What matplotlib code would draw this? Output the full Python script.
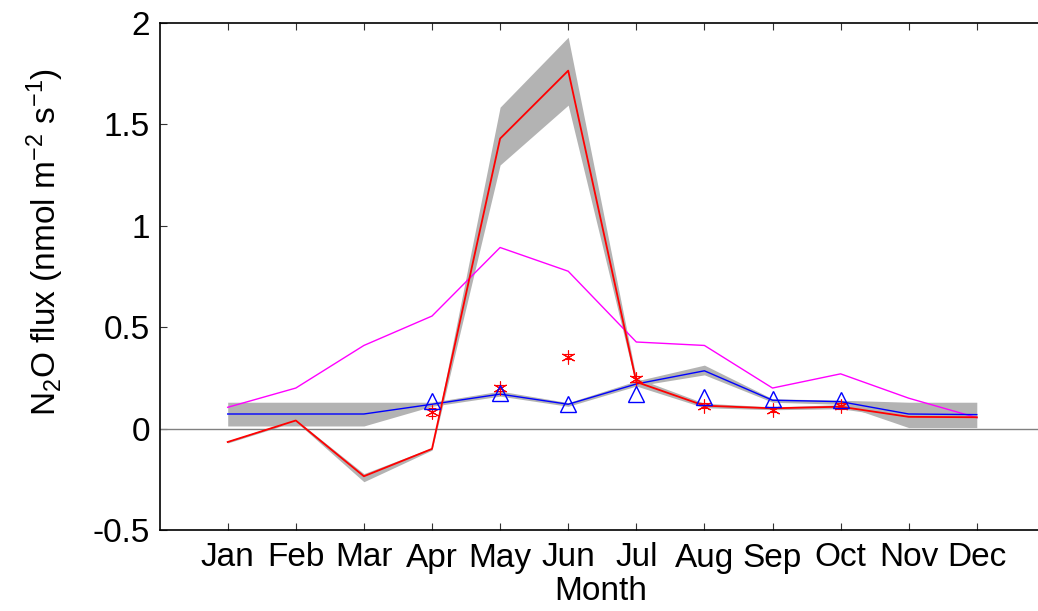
import matplotlib
matplotlib.use("Agg")
import matplotlib.pyplot as plt
import numpy as np

months = ["Jan", "Feb", "Mar", "Apr", "May", "Jun", "Jul", "Aug", "Sep", "Oct", "Nov", "Dec"]
x = np.arange(1, 13)

red_mean = [-0.066, 0.04, -0.235, -0.10, 1.43, 1.765, 0.23, 0.113, 0.10, 0.108, 0.058, 0.056]
red_low = [-0.071, 0.035, -0.262, -0.106, 1.30, 1.595, 0.21, 0.103, 0.093, 0.098, 0.050, 0.050]
red_high = [-0.061, 0.045, -0.222, -0.094, 1.585, 1.93, 0.25, 0.125, 0.107, 0.118, 0.064, 0.062]

blue_mean = [0.072, 0.072, 0.072, 0.12, 0.17, 0.12, 0.22, 0.285, 0.14, 0.133, 0.072, 0.069]
blue_low = [0.013, 0.013, 0.013, 0.11, 0.16, 0.11, 0.21, 0.265, 0.13, 0.12, 0.005, 0.005]
blue_high = [0.13, 0.13, 0.13, 0.13, 0.185, 0.128, 0.235, 0.313, 0.147, 0.14, 0.13, 0.13]

magenta = [0.105, 0.20, 0.41, 0.555, 0.893, 0.776, 0.427, 0.41, 0.20, 0.27, 0.15, 0.054]

obs_months = [4, 5, 6, 7, 8, 9, 10]
obs_star = [0.083, 0.20, 0.355, 0.243, 0.113, 0.092, 0.111]
obs_star_err = [0.02, 0.015, 0.012, 0.015, 0.012, 0.012, 0.015]
obs_tri = [0.134, 0.177, 0.123, 0.169, 0.154, 0.146, 0.14]

fam = "Liberation Sans"
fs = 24
plt.rcParams['font.family'] = [fam, 'DejaVu Sans']
plt.rcParams['mathtext.fontset'] = 'custom'
plt.rcParams['mathtext.rm'] = fam
plt.rcParams['mathtext.it'] = fam
plt.rcParams['axes.unicode_minus'] = False

W, H = 1038, 611
fig = plt.figure(figsize=(W / 100, H / 100), dpi=100)

left_px, top_px, bot_px = 159.6, 23, 530
step = 68.1
ax = fig.add_axes([left_px / W, 1 - bot_px / H, 13 * step / W, (bot_px - top_px) / H])

gray = "#b3b3b3"
ax.fill_between(x, blue_low, blue_high, color=gray, lw=0, zorder=1)
ax.fill_between(x, red_low, red_high, color=gray, lw=0, zorder=1)
ax.axhline(0, color="#808080", lw=1.0, zorder=2)

ax.plot(x, magenta, color="#ff00ff", lw=1.0, zorder=3)
ax.plot(x, blue_mean, color="#0000ff", lw=1.0, zorder=4)
ax.plot(x, red_mean, color="#ff0000", lw=1.3, zorder=5)

ax.errorbar(obs_months, obs_star, yerr=obs_star_err, fmt="none", ecolor="#ff0000",
            elinewidth=0.8, capsize=3, capthick=0.8, zorder=6)
ax.plot(obs_months, obs_star, linestyle="none", marker=(6, 2, 0), markersize=10,
        markeredgecolor="#ff0000", markeredgewidth=0.8, zorder=6)
ax.plot(obs_months, obs_tri, linestyle="none", marker="^", markersize=12,
        markerfacecolor="none", markeredgecolor="#0000ff", markeredgewidth=1.0, zorder=7)

ax.set_xlim(0, 13)
ax.set_ylim(-0.5, 2)
ax.set_xticks(x)
ax.set_xticklabels(months)
ax.set_yticks([-0.5, 0, 0.5, 1, 1.5, 2])
ax.set_yticklabels(["-0.5", "0", "0.5", "1", "1.5", "2"])
ax.tick_params(axis="both", direction="in", labelsize=fs, length=5, width=0.8, color="#333333")
ax.tick_params(axis="x", top=True, pad=9)
ax.tick_params(axis="y", pad=7)
for s in ax.spines.values():
    s.set_linewidth(1.2)
ax.spines["right"].set_visible(False)

fig.text(601 / W, 1 - 592 / H, "Month", fontsize=fs, ha="center", va="center")
fig.text(45 / W, 1 - 242 / H, "N$_2$O flux (nmol m$^{-2}$ s$^{-1}$)", rotation=90,
         fontsize=fs, ha="center", va="center")

fig.savefig("out.png", dpi=100)
